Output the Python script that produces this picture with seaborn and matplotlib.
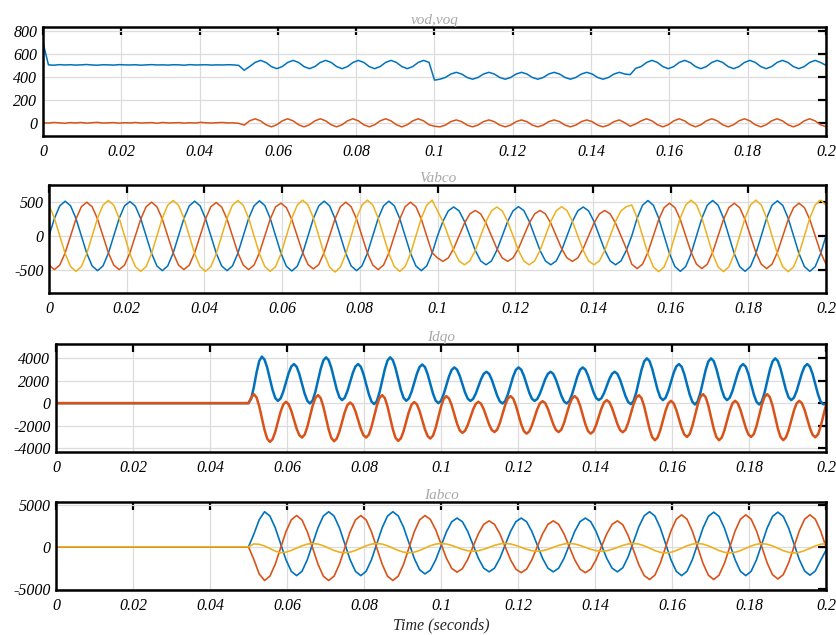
import numpy as np
import matplotlib
matplotlib.use("Agg")
import matplotlib.pyplot as plt
import seaborn as sns

# ---------------- data ----------------
x_ticks = [0, 0.02, 0.04, 0.06, 0.08, 0.1, 0.12, 0.14, 0.16, 0.18, 0.2]
x_tick_labels = ["0", "0.02", "0.04", "0.06", "0.08", "0.1", "0.12", "0.14", "0.16", "0.18", "0.2"]
titles = ["vod,voq", "Vabco", "Idqo", "Iabco"]
x_label = "Time (seconds)"

# sample times (seconds)
t_vdq = np.arange(145) / 720
t_vabc = np.arange(145) / 720
t_idq = np.concatenate([[0.0], 0.05 + np.arange(217) / 1440])
t_iabc = np.concatenate([[0.0], np.arange(36, 145) / 720])

vod = [700,
       505, 502, 507, 504, 506, 503, 505,
       508, 504, 502, 506, 505, 503, 507,
       505, 504, 506, 502, 505, 507, 504,
       505, 503, 506, 505, 502, 507, 504,
       505, 506, 503, 505, 504, 506, 505,
       500, 458,
       490, 526, 544, 526, 490, 472,
       490, 526, 544, 526, 490, 472,
       490, 526, 544, 526, 490, 472,
       490, 526, 544, 526, 490, 472,
       490, 526, 544, 526, 490, 472,
       490, 526, 544, 526,
       372, 380,
       395, 425, 440, 425, 395, 380,
       395, 425, 440, 425, 395, 380,
       395, 425, 440, 425, 395, 380,
       395, 425, 440, 425, 395, 380,
       395, 425, 440, 425, 395, 380,
       395, 425, 440, 425,
       420, 475, 490,
       526, 544, 526, 490, 472, 490,
       526, 544, 526, 490, 472, 490,
       526, 544, 526, 490, 472, 490,
       526, 544, 526, 490, 472, 490,
       526, 544, 526, 490, 472, 490,
       526, 544, 526, 500]

voq = [0,
       -2, 3, 0, -4, 2, -1, 3,
       -3, 1, 4, -2, 0, 2, -3,
       1, -1, 3, -2, 0, 2, -4,
       3, -1, 0, 2, -3, 1, -2,
       4, 0, -2, 1, 3, -1, 0,
       -5, -20,
       17, 35, 17, -17, -35, -17,
       17, 35, 17, -17, -35, -17,
       17, 35, 17, -17, -35, -17,
       17, 35, 17, -17, -35, -17,
       17, 35, 17, -17, -35, -17,
       17, 35, 17, -17,
       -30, -35,
       -20, 10, 25, 10, -20, -35,
       -20, 10, 25, 10, -20, -35,
       -20, 10, 25, 10, -20, -35,
       -20, 10, 25, 10, -20, -35,
       -20, 10, 25, 10, -20, -35,
       -20, 10, 25, 0,
       -30, -10,
       17, 35, 17, -17, -35, -17,
       17, 35, 17, -17, -35, -17,
       17, 35, 17, -17, -35, -17,
       17, 35, 17, -17, -35, -17,
       17, 35, 17, -17, -35, -17,
       17, 35, 17, -17, -35]

va = [0, 253, 437,
      505, 437, 253, 0, -253, -437, -505, -437, -253, 0, 253, 437,
      500, 433, 250, 0, -253, -437, -505, -437, -253, 0, 253, 437,
      505, 437, 253, 0, -253, -437, -505, -437, -253, 0, 253, 437,
      510, 442, 255, 0, -255, -442, -510, -442, -255, 0, 253, 437,
      505, 437, 253, 0, -253, -437, -505, -437, -253, 0, 253, 437,
      505, 437, 253, 0, -253, -437, -505, -437, -253,
      0, 210, 364,
      420, 364, 210, 0, -210, -364, -420, -364, -210, 0, 210, 364,
      425, 368, 212, 0, -210, -364, -420, -364, -210, 0, 210, 364,
      420, 364, 210, 0, -210, -364, -420, -364, -210,
      0, 258, 446,
      515, 446, 258, 0, -258, -446, -515, -446, -258, 0, 258, 446,
      515, 446, 258, 0, -258, -446, -515, -446, -258, 0, 258, 446,
      510, 442, 255, 0, -258, -446, -515, -446, -258, 0]

vb = [-424, -490, -424, -245, 0, 245, 424,
      490, 424, 245, 0, -245, -424, -490, -424, -245, 0, 245, 424,
      490, 424, 245, 0, -245, -424, -490, -424, -245, 0, 245, 424,
      485, 420, 243, 0, -245, -424, -490, -424, -245, 0, 245, 424,
      475, 411, 238, 0, -240, -416, -480, -416, -240, 0, 245, 424,
      490, 424, 245, 0, -245, -424, -490, -424, -245, 0, 245, 424,
      490, 424, 245, 0, -245,
      -320, -370, -320, -185, 0, 185, 320,
      370, 320, 185, 0, -185, -320, -370, -320, -185, 0, 185, 320,
      370, 320, 185, 0, -185, -320, -370, -320, -185, 0, 185, 320,
      370, 320, 185, 0, -185,
      -411, -475, -411, -238, 0, 238, 411,
      475, 411, 238, 0, -238, -411, -475, -411, -238, 0, 238, 411,
      475, 411, 238, 0, -238, -411, -475, -411, -238, 0, 238, 411,
      475, 411, 238, 0, -238, -411]

vc = [446, 258, 0, -258, -446, -515, -446, -258, 0, 258, 446,
      515, 446, 258, 0, -258, -446, -515, -446, -258, 0, 258, 446,
      515, 446, 258, 0, -258, -446, -515, -446, -258, 0, 258, 446,
      515, 446, 258, 0, -258, -446, -515, -446, -258, 0, 258, 446,
      520, 450, 260, 0, -262, -454, -525, -454, -262, 0, 258, 446,
      520, 450, 260, 0, -258, -446, -515, -446, -258, 0, 258, 446,
      520,
      364, 210, 0, -210, -364, -420, -364, -210, 0, 210, 364,
      420, 364, 210, 0, -210, -364, -420, -364, -210, 0, 210, 364,
      425, 368, 212, 0, -210, -364, -420, -364, -210, 0, 210, 364,
      425,
      450, 260, 0, -260, -450, -520, -450, -260, 0, 260, 450,
      520, 450, 260, 0, -260, -450, -520, -450, -260, 0, 260, 450,
      520, 450, 260, 0, -260, -450, -520, -450, -260, 0, 260, 450,
      520, 450]

id_ = [0,
       0, 395, 1430, 2720, 3755, 4150,
       3885, 3162, 2175, 1187, 465, 200,
       420, 1023, 1845, 2668, 3270, 3490,
       3254, 2610, 1730, 850, 206, -30,
       246, 1000, 2030, 3060, 3814, 4090,
       3834, 3135, 2180, 1225, 526, 270,
       486, 1075, 1880, 2685, 3274, 3490,
       3250, 2595, 1700, 805, 150, -90,
       190, 955, 2000, 3045, 3810, 4090,
       3830, 3120, 2150, 1180, 470, 210,
       427, 1020, 1830, 2640, 3233, 3450,
       3219, 2587, 1725, 862, 231, 0,
       214, 798, 1595, 2393, 2976, 3190,
       2990, 2442, 1695, 947, 400, 200,
       374, 850, 1500, 2150, 2626, 2800,
       2610, 2092, 1385, 677, 160, -30,
       186, 775, 1580, 2385, 2974, 3190,
       2990, 2442, 1695, 947, 400, 200,
       374, 850, 1500, 2150, 2626, 2800,
       2610, 2092, 1385, 677, 160, -30,
       186, 775, 1580, 2385, 2974, 3190,
       2994, 2460, 1730, 1000, 466, 270,
       440, 903, 1535, 2168, 2630, 2800,
       2606, 2077, 1355, 632, 104, -90,
       184, 933, 1955, 2978, 3726, 4000,
       3750, 3067, 2135, 1202, 520, 270,
       486, 1075, 1880, 2685, 3274, 3490,
       3248, 2587, 1685, 782, 122, -120,
       156, 910, 1940, 2970, 3724, 4000,
       3750, 3067, 2135, 1202, 520, 270,
       486, 1075, 1880, 2685, 3274, 3490,
       3248, 2587, 1685, 782, 122, -120,
       156, 910, 1940, 2970, 3724, 4000,
       3750, 3067, 2135, 1202, 520, 270,
       486, 1075, 1880, 2685, 3274, 3490,
       3249, 2592, 1695, 797, 140, -100,
       -80]

iq = [0,
      0, 500, 800,
      515, -265, -1330, -2395, -3175, -3460,
      -3220, -2565, -1670, -775, -120, 120,
      -94, -678, -1475, -2273, -2856, -3070,
      -2816, -2122, -1175, -227, 466, 720,
      444, -310, -1340, -2370, -3124, -3400,
      -3168, -2535, -1670, -805, -172, 60,
      -150, -723, -1505, -2288, -2860, -3070,
      -2816, -2122, -1175, -227, 466, 720,
      446, -303, -1325, -2348, -3096, -3370,
      -3138, -2502, -1635, -767, -132, 100,
      -118, -715, -1530, -2345, -2942, -3160,
      -2906, -2212, -1265, -317, 376, 630,
      410, -190, -1010, -1830, -2430, -2650,
      -2464, -1957, -1265, -572, -66, 120,
      -61, -555, -1230, -1905, -2399, -2580,
      -2365, -1777, -975, -172, 415, 630,
      406, -208, -1045, -1883, -2496, -2720,
      -2526, -1995, -1270, -545, -14, 180,
      -5, -510, -1200, -1890, -2395, -2580,
      -2365, -1777, -975, -172, 415, 630,
      406, -208, -1045, -1883, -2496, -2720,
      -2520, -1972, -1225, -477, 70, 270,
      78, -448, -1165, -1883, -2408, -2600,
      -2378, -1771, -942, -113, 494, 716,
      446, -291, -1297, -2304, -3040, -3310,
      -3074, -2430, -1550, -670, -26, 210,
      -6, -596, -1403, -2209, -2799, -3015,
      -2759, -2060, -1104, -149, 550, 806,
      530, -223, -1252, -2281, -3034, -3310,
      -3074, -2430, -1550, -670, -26, 210,
      -6, -596, -1403, -2209, -2799, -3015,
      -2759, -2060, -1104, -149, 550, 806,
      531, -221, -1247, -2274, -3025, -3300,
      -3065, -2422, -1545, -667, -25, 210,
      -8, -605, -1420, -2235, -2832, -3050,
      -2792, -2087, -1125, -162]

ia = [0,
      0, 1500, 3200, 4150,
      3644, 2262, 375, -1513, -2894, -3400,
      -2894, -1512, 375, 2263, 3644, 4150,
      3644, 2262, 375, -1513, -2894, -3400,
      -2894, -1512, 375, 2263, 3644, 4150,
      3658, 2312, 475, -1363, -2708, -3200,
      -2758, -1550, 100, 1750, 2958, 3400,
      2975, 1812, 225, -1363, -2525, -2950,
      -2525, -1362, 225, 1813, 2975, 3400,
      2975, 1812, 225, -1363, -2525, -2950,
      -2525, -1362, 225, 1813, 2975, 3400,
      2975, 1812, 225, -1363, -2525, -2950,
      -2474, -1175, 600, 2375, 3674, 4150,
      3644, 2262, 375, -1513, -2894, -3400,
      -2897, -1525, 350, 2225, 3598, 4100,
      3597, 2225, 350, -1525, -2898, -3400,
      -2897, -1525, 350, 2225, 3598, 4100,
      3601, 2237, 375, -1488, -2851, -3350,
      -2850, -1600, -400]

ib = [0,
      0, -1500, -3200, -3980,
      -3465, -2060, -140, 1780, 3185, 3700,
      3185, 1780, -140, -2060, -3465, -3980,
      -3465, -2060, -140, 1780, 3185, 3700,
      3185, 1780, -140, -2060, -3465, -3980,
      -3465, -2060, -140, 1780, 3185, 3700,
      3252, 2027, 355, -1318, -2542, -2990,
      -2584, -1475, 40, 1555, 2664, 3070,
      2660, 1540, 10, -1520, -2640, -3050,
      -2640, -1520, 10, 1540, 2660, 3070,
      2660, 1540, 10, -1520, -2640, -3050,
      -2640, -1520, 10, 1540, 2660, 3070,
      2606, 1337, -395, -2128, -3396, -3860,
      -3348, -1950, -40, 1870, 3268, 3780,
      3268, 1870, -40, -1950, -3348, -3860,
      -3348, -1950, -40, 1870, 3268, 3780,
      3272, 1885, -10, -1905, -3292, -3800,
      -3292, -1905, -10, 1885, 3272, 3780,
      3272, 1885, -10]

ic = [0,
      0, 350, 300, 100, -200, -500,
      -700,
      -626, -425, -150, 125, 326, 400,
      326, 125, -150, -425, -626, -700,
      -626, -425, -150, 125, 326, 400,
      326, 125, -150, -425, -626, -700,
      -626, -425, -150, 125, 326, 400,
      338, 170, -60, -290, -458, -520,
      -458, -290, -60, 170, 338, 400,
      338, 170, -60, -290, -458, -520,
      -458, -290, -60, 170, 338, 400,
      338, 170, -60, -290, -458, -520,
      -458, -290, -60, 170, 338, 400,
      325, 120, -160, -440, -645, -720,
      -645, -440, -160, 120, 325, 400,
      325, 120, -160, -440, -645, -720,
      -646, -445, -170, 105, 306, 380,
      306, 105, -170, -445, -646, -720,
      -646, -445, -170, 105, 306, 380]

for name, arr, tt in [("vod", vod, t_vdq), ("voq", voq, t_vdq), ("va", va, t_vabc),
                      ("vb", vb, t_vabc), ("vc", vc, t_vabc), ("id", id_, t_idq),
                      ("iq", iq, t_idq), ("ia", ia, t_iabc), ("ib", ib, t_iabc),
                      ("ic", ic, t_iabc)]:
    assert len(arr) == len(tt), f"{name}: {len(arr)} vs {len(tt)}"

# ---------------- style ----------------
sns.set_style("white")
plt.rcParams["font.family"] = ["Liberation Serif", "DejaVu Serif"]
plt.rcParams["axes.unicode_minus"] = False

BLUE, ORANGE, YELLOW = "#0072BD", "#D95319", "#EDB120"
TITLE_COLOR = "#a8a8a8"

fig = plt.figure(figsize=(8.37, 6.35), dpi=100)
W, H = 837, 635


def add_ax(left, right, top, bottom):
    return fig.add_axes([left / W, 1 - bottom / H, (right - left) / W, (bottom - top) / H])


axes = [add_ax(43, 826, 27, 136), add_ax(49, 826, 185, 293),
        add_ax(56, 826, 344, 452), add_ax(56, 826, 502, 590)]

panels = [
    ([(t_vdq, vod, BLUE), (t_vdq, voq, ORANGE)], 1.1, (-115, 835), [0, 200, 400, 600, 800]),
    ([(t_vabc, va, BLUE), (t_vabc, vb, ORANGE), (t_vabc, vc, YELLOW)], 1.1, (-830, 740), [-500, 0, 500]),
    ([(t_idq, id_, BLUE), (t_idq, iq, ORANGE)], 1.8, (-4360, 5280), [-4000, -2000, 0, 2000, 4000]),
    ([(t_iabc, ia, BLUE), (t_iabc, ib, ORANGE), (t_iabc, ic, YELLOW)], 1.2, (-5100, 5300), [-5000, 0, 5000]),
]

for ax, title, (series, lw, ylim, yticks) in zip(axes, titles, panels):
    for tt, yy, col in series:
        sns.lineplot(x=tt, y=yy, ax=ax, color=col, linewidth=lw,
                     estimator=None, sort=False, legend=False)
    ax.set_xlim(0, 0.2)
    ax.set_ylim(*ylim)
    ax.set_xticks(x_ticks)
    ax.set_xticklabels(x_tick_labels)
    ax.set_yticks(yticks)
    ax.set_yticklabels([str(v) for v in yticks])
    ax.grid(True, color="#dcdcdc", linewidth=0.9)
    ax.set_axisbelow(True)
    for sp in ax.spines.values():
        sp.set_visible(True)
        sp.set_color("black")
        sp.set_linewidth(1.8)
    ax.tick_params(axis="both", which="major", direction="in", length=6, width=1.6,
                   top=True, right=True, labelsize=11.5, colors="black")
    ax.tick_params(axis="x", pad=6)
    ax.tick_params(axis="y", pad=4)
    for lab in ax.get_xticklabels() + ax.get_yticklabels():
        lab.set_fontstyle("italic")
    ax.set_title(title, fontsize=11, color=TITLE_COLOR, fontstyle="italic", pad=2)
    ax.set_xlabel("")
    ax.set_ylabel("")

axes[3].set_xlabel(x_label, fontsize=11.5, fontstyle="italic", labelpad=2)

fig.savefig("out.png", dpi=100)
